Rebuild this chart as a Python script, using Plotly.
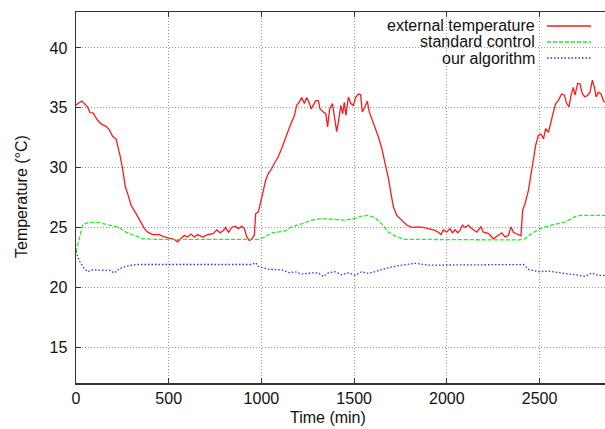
import plotly.graph_objects as go

# ---------------- data ----------------
series_names = ["external temperature", "standard control", "our algorithm"]
x_ticks = [0, 500, 1000, 1500, 2000, 2500]
y_ticks = [15, 20, 25, 30, 35, 40]

ext_t = [0, 14, 32, 45, 63, 75, 93, 102, 117, 135,
         162, 180, 198, 216, 225, 239, 252, 266, 279, 297,
         324, 351, 369, 387, 414, 450, 468, 503, 530, 548,
         566, 584, 602, 620, 638, 656, 683, 710, 728, 741,
         759, 777, 795, 807, 822, 840, 858, 876, 894, 908,
         921, 935, 948, 962, 969, 983, 998, 1010, 1023, 1037,
         1055, 1073, 1091, 1109, 1127, 1145, 1163, 1178, 1190, 1203,
         1217, 1232, 1244, 1257, 1268, 1280, 1294, 1307, 1316, 1334,
         1347, 1357, 1368, 1383, 1393, 1406, 1415, 1428, 1438, 1447,
         1456, 1469, 1482, 1496, 1508, 1523, 1535, 1544, 1559, 1571,
         1582, 1595, 1613, 1631, 1649, 1667, 1685, 1699, 1712, 1730,
         1757, 1784, 1811, 1847, 1873, 1900, 1936, 1954, 1969, 1981,
         1999, 2017, 2030, 2044, 2059, 2071, 2084, 2098, 2116, 2134,
         2161, 2184, 2197, 2224, 2251, 2278, 2296, 2314, 2332, 2346,
         2359, 2377, 2400, 2409, 2422, 2440, 2454, 2467, 2479, 2494,
         2508, 2521, 2533, 2548, 2562, 2575, 2587, 2601, 2619, 2634,
         2646, 2659, 2670, 2682, 2691, 2706, 2718, 2731, 2745, 2760,
         2772, 2785, 2796, 2805, 2817, 2832, 2844, 2853]
ext_temp = [35.2, 35.4, 35.55, 35.3, 35.05, 34.6, 34.55, 34.3, 33.95, 33.65,
            33.45, 33.15, 32.6, 32.4, 31.85, 30.9, 29.8, 28.4, 27.8, 26.85,
            26.15, 25.45, 24.9, 24.6, 24.4, 24.4, 24.25, 24.1, 24.0, 23.8,
            24.05, 24.35, 24.2, 24.45, 24.2, 24.4, 24.2, 24.4, 24.45, 24.5,
            24.8, 24.55, 24.75, 25.0, 24.6, 25.0, 25.1, 24.9, 25.1, 24.9,
            24.2, 23.9, 24.05, 24.35, 26.15, 26.3, 27.25, 28.1, 28.95, 29.5,
            29.9, 30.45, 30.9, 31.6, 32.4, 33.1, 33.8, 34.35, 35.2, 35.45,
            35.85, 35.35, 35.85, 35.45, 34.9, 35.2, 35.6, 35.6, 34.9, 34.65,
            34.5, 33.4, 34.9, 35.35, 34.2, 33.0, 33.8, 35.2, 34.5, 35.45,
            34.35, 35.9, 35.35, 35.2, 35.85, 36.15, 36.1, 34.65, 35.1, 35.55,
            34.65, 34.1, 33.4, 32.55, 31.6, 30.45, 29.1, 27.8, 26.7, 26.0,
            25.6, 25.2, 25.0, 25.05, 25.0, 24.9, 24.75, 24.6, 24.4, 24.8,
            24.6, 24.9, 24.55, 24.8, 24.55, 24.75, 25.2, 25.0, 25.2, 24.9,
            24.6, 25.05, 24.6, 24.5, 24.05, 24.35, 24.55, 24.2, 24.35, 25.05,
            24.6, 24.45, 24.3, 26.45, 27.0, 28.1, 29.5, 30.9, 31.85, 32.7,
            32.8, 32.4, 33.25, 32.95, 33.95, 34.65, 35.35, 35.6, 36.15, 36.05,
            35.35, 35.1, 36.05, 36.7, 36.05, 37.05, 37.0, 36.15, 35.9, 36.05,
            36.3, 37.3, 36.7, 35.9, 36.3, 36.15, 35.6, 35.45]

std_t = [0, 18, 36, 63, 126, 180, 225, 270, 315, 360,
         450, 540, 720, 876, 983, 1019, 1055, 1127, 1163, 1217,
         1271, 1325, 1397, 1451, 1505, 1541, 1577, 1613, 1649, 1685,
         1721, 1766, 1847, 1936, 1972, 2026, 2116, 2188, 2278, 2386,
         2422, 2458, 2512, 2565, 2637, 2691, 2718, 2763, 2853]
std_temp = [22.95, 24.2, 25.2, 25.4, 25.4, 25.2, 25.05, 24.6, 24.3, 24.05,
            24.0, 24.0, 24.0, 23.95, 24.0, 24.2, 24.55, 24.7, 25.05, 25.3,
            25.6, 25.75, 25.7, 25.6, 25.75, 25.95, 26.0, 25.8, 25.3, 24.6,
            24.3, 24.0, 24.0, 24.0, 23.95, 24.0, 24.0, 24.0, 23.95, 23.95,
            24.05, 24.5, 24.95, 25.2, 25.45, 25.9, 26.0, 26.0, 26.0]

alg_t = [0, 18, 45, 63, 90, 144, 189, 201, 216, 234,
         270, 324, 450, 540, 720, 804, 876, 948, 969, 983,
         1037, 1109, 1154, 1181, 1217, 1271, 1307, 1334, 1361, 1397,
         1433, 1469, 1505, 1541, 1577, 1613, 1649, 1703, 1757, 1829,
         1900, 1954, 2008, 2116, 2206, 2314, 2413, 2440, 2494, 2548,
         2584, 2637, 2691, 2745, 2781, 2817, 2853]
alg_temp = [23.0, 22.2, 21.55, 21.3, 21.45, 21.4, 21.4, 21.2, 21.3, 21.55,
            21.75, 21.9, 21.9, 21.9, 21.9, 21.9, 21.85, 21.9, 22.05, 21.75,
            21.5, 21.45, 21.2, 21.3, 21.1, 21.2, 21.2, 20.9, 21.2, 21.3,
            21.05, 21.2, 21.0, 21.3, 21.15, 21.3, 21.45, 21.7, 21.85, 22.0,
            21.85, 21.85, 21.9, 21.9, 21.85, 21.85, 21.9, 21.5, 21.3, 21.35,
            21.25, 21.15, 21.05, 20.9, 21.2, 21.0, 21.0]

# ---------------- styling ----------------
W, H = 605, 429
ML, MR, MT, MB = 76, 0, 12, 46
PW, PH = W - ML - MR, H - MT - MB
FONT = "Liberation Sans, Arial, Helvetica, sans-serif"
colors = ["#ff1a1a", "#22ee22", "#2233ff"]
dashes = ["solid", "4px,2px", "1.5px,2px"]


def px_x(p):
    return (p - ML) / PW


def px_y(p):
    return (H - MB - p) / PH


fig = go.Figure()
for t, v, name, c, d in zip([ext_t, std_t, alg_t], [ext_temp, std_temp, alg_temp],
                            series_names, colors, dashes):
    fig.add_trace(go.Scatter(x=t, y=v, mode="lines", name=name,
                             line=dict(color=c, width=1.3, dash=d),
                             showlegend=False, hoverinfo="skip"))

axis_common = dict(
    showline=True, linecolor="#333333", linewidth=1.5,
    ticks="inside", ticklen=5, tickwidth=1, tickcolor="#333333",
    showgrid=True, gridcolor="#9a9a9a", gridwidth=1, griddash="1px,2px",
    zeroline=False, tickfont=dict(family=FONT, size=16, color="#111111"),
)
fig.update_xaxes(range=[0, 2853], tickvals=x_ticks, mirror="ticks", **axis_common)
fig.update_yaxes(range=[12, 43], tickvals=y_ticks, mirror=False,
                 ticklabelstandoff=4, **axis_common)

# white box behind the legend (covers grid lines)
fig.add_shape(type="rect", xref="paper", yref="paper",
              x0=px_x(350), x1=px_x(598), y0=px_y(65), y1=px_y(17),
              fillcolor="white", line=dict(width=0), layer="between")

legend_rows = [26, 42, 58]
for name, c, d, row in zip(series_names, colors, dashes, legend_rows):
    fig.add_annotation(xref="paper", yref="paper", x=px_x(537), y=px_y(row),
                       xanchor="right", yanchor="middle", text=name, showarrow=False,
                       font=dict(family=FONT, size=16, color="#111111"))
    fig.add_shape(type="line", xref="paper", yref="paper",
                  x0=px_x(547), x1=px_x(591), y0=px_y(row), y1=px_y(row),
                  line=dict(color=c, width=1.3, dash=d))

# axis titles
fig.add_annotation(xref="paper", yref="paper", x=px_x(328), y=px_y(417),
                   xanchor="center", yanchor="middle", text="Time (min)", showarrow=False,
                   font=dict(family=FONT, size=16, color="#111111"))
fig.add_annotation(xref="paper", yref="paper", x=px_x(21), y=px_y(197),
                   xanchor="center", yanchor="middle", text="Temperature (°C)",
                   textangle=-90, showarrow=False,
                   font=dict(family=FONT, size=16, color="#111111"))

fig.update_layout(width=W, height=H, margin=dict(l=ML, r=MR, t=MT, b=MB, pad=0),
                  plot_bgcolor="white", paper_bgcolor="white", showlegend=False,
                  hovermode=False)

fig.write_html("out.html", config={"displayModeBar": False, "staticPlot": True},
               post_script="document.body.style.margin='0';"
                           "document.body.style.overflow='hidden';")
